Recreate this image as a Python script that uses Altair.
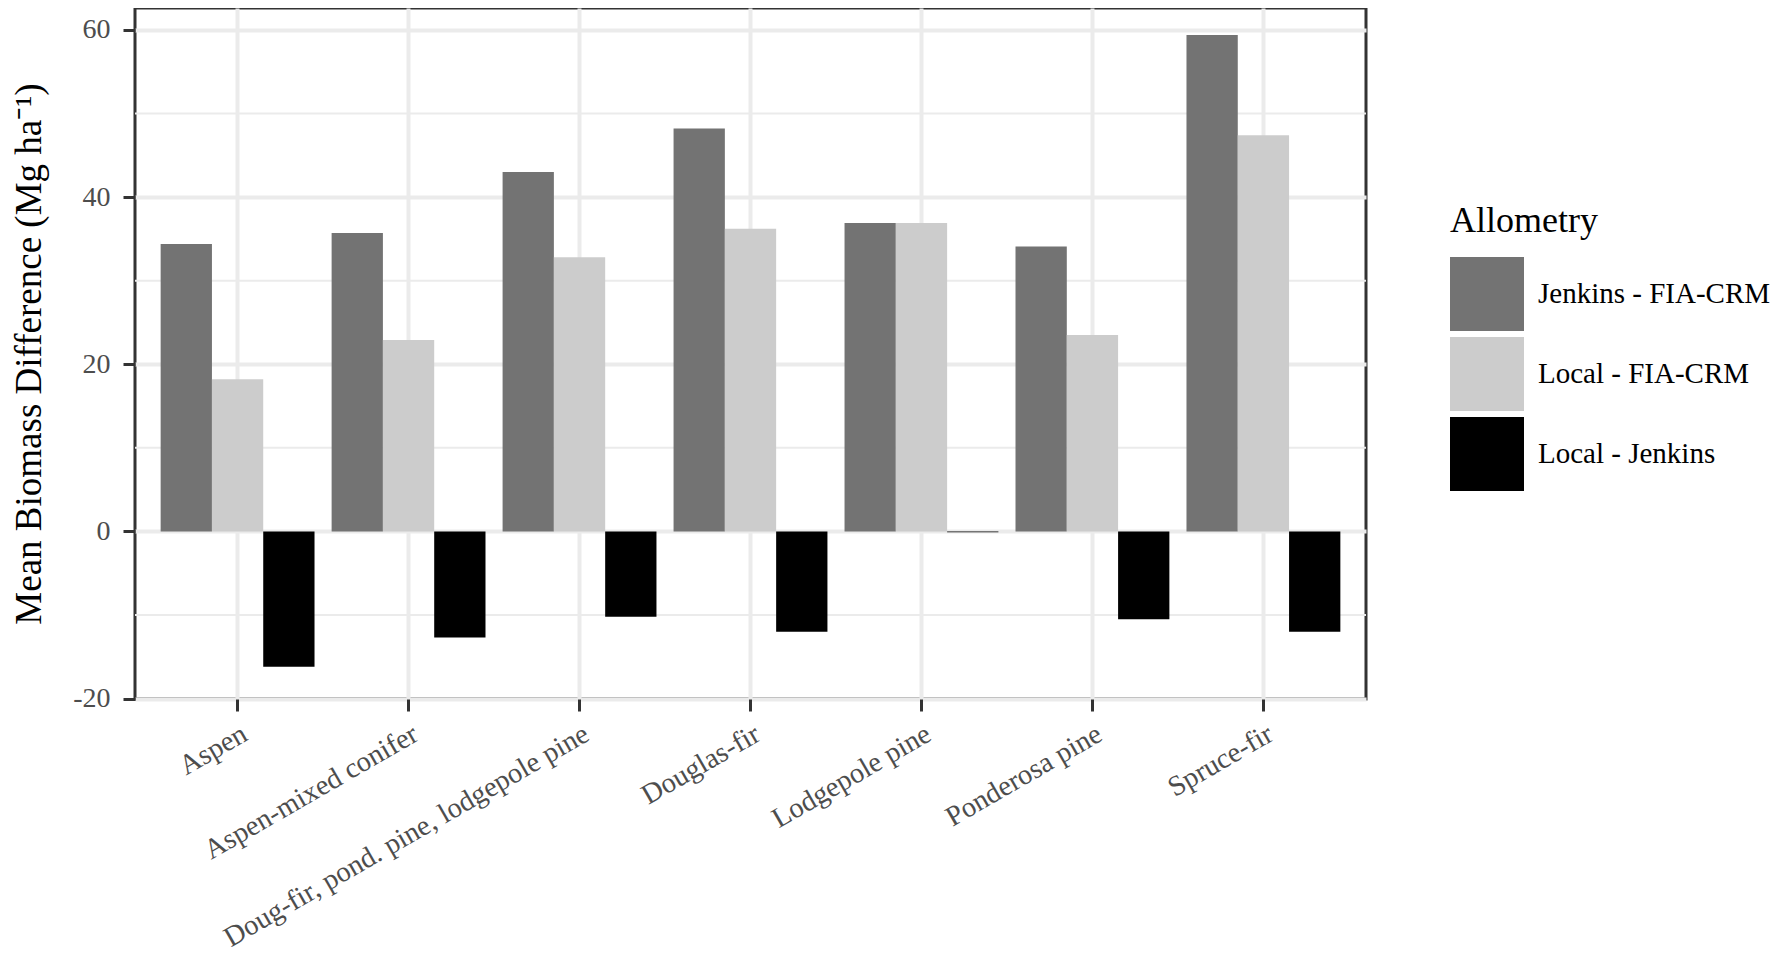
import altair as alt
import pandas as pd

categories = ["Aspen", "Aspen-mixed conifer", "Doug-fir, pond. pine, lodgepole pine",
              "Douglas-fir", "Lodgepole pine", "Ponderosa pine", "Spruce-fir"]
series = ["Jenkins - FIA-CRM", "Local - FIA-CRM", "Local - Jenkins"]
jenkins_fia = [34.4, 35.7, 43.0, 48.2, 36.9, 34.1, 59.4]
local_fia = [18.2, 22.9, 32.8, 36.2, 36.9, 23.5, 47.4]
local_jenkins = [-16.2, -12.7, -10.2, -12.0, -0.1, -10.5, -12.0]
colors = ["#737373", "#CCCCCC", "#000000"]
major_ticks = [-20, 0, 20, 40, 60]
minor_grid = [-10, 10, 30, 50]

rows = []
for s, vals in zip(series, [jenkins_fia, local_fia, local_jenkins]):
    for c, v in zip(categories, vals):
        rows.append({"Forest": c, "Allometry": s, "Diff": v})
df = pd.DataFrame(rows)
minor_df = pd.DataFrame({"v": minor_grid})

FONT = "Liberation Serif"
yscale = alt.Scale(domain=[-20.05, 62.62], nice=False, zero=False)
yaxis = alt.Axis(title="Mean Biomass Difference (Mg ha\u207B\u00B9)",
                 values=major_ticks,
                 labelExpr="datum.value < 0 ? '-' + abs(datum.value) : '' + datum.value",
                 tickSize=12, tickWidth=3, tickColor="#333333",
                 grid=True, gridColor="#EBEBEB", gridWidth=4, domain=False,
                 labelFont=FONT, labelFontSize=28, labelColor="#4D4D4D",
                 labelPadding=13,
                 titleFont=FONT, titleFontSize=37, titleFontWeight="normal",
                 titleColor="#000000", titlePadding=24)

minor = alt.Chart(minor_df).mark_rule(color="#EBEBEB", strokeWidth=2).encode(
    y=alt.Y("v:Q", scale=yscale, axis=yaxis)
)

bars = alt.Chart(df).mark_bar().encode(
    x=alt.X("Forest:N", sort=categories,
            scale=alt.Scale(paddingInner=0.1, paddingOuter=0.15),
            axis=alt.Axis(title=None, labelAngle=-30, labelAlign="right", labelBaseline="top",
                          labelPadding=8, tickSize=12, tickWidth=3, tickColor="#333333",
                          grid=True, gridColor="#EBEBEB", gridWidth=4, domain=False,
                          labelLimit=0,
                          labelFont=FONT, labelFontSize=28.5, labelColor="#4D4D4D")),
    xOffset=alt.XOffset("Allometry:N", sort=series,
                        scale=alt.Scale(paddingInner=0, paddingOuter=0)),
    y=alt.Y("Diff:Q", scale=yscale, axis=yaxis),
    color=alt.Color("Allometry:N", sort=series,
                    scale=alt.Scale(domain=series, range=colors),
                    legend=alt.Legend(title="Allometry", orient="none", legendX=1315, legendY=196,
                                      symbolType="square", symbolSize=5476, symbolStrokeWidth=0,
                                      symbolOpacity=1, rowPadding=6, labelOffset=14, padding=0,
                                      titlePadding=17, titleFont=FONT, titleFontSize=36,
                                      titleFontWeight="normal", titleColor="#000000",
                                      labelFont=FONT, labelFontSize=29, labelColor="#000000",
                                      labelLimit=0, titleBaseline="top")),
)

chart = alt.layer(minor, bars).properties(
    width=1231, height=691,
    background="white",
    autosize=alt.AutoSizeParams(type="none"),
    padding={"left": 127, "top": 0, "right": 405, "bottom": 255},
).configure_view(stroke="#333333", strokeWidth=3)

chart.save("out.html", embed_options={"renderer": "svg", "actions": False})
